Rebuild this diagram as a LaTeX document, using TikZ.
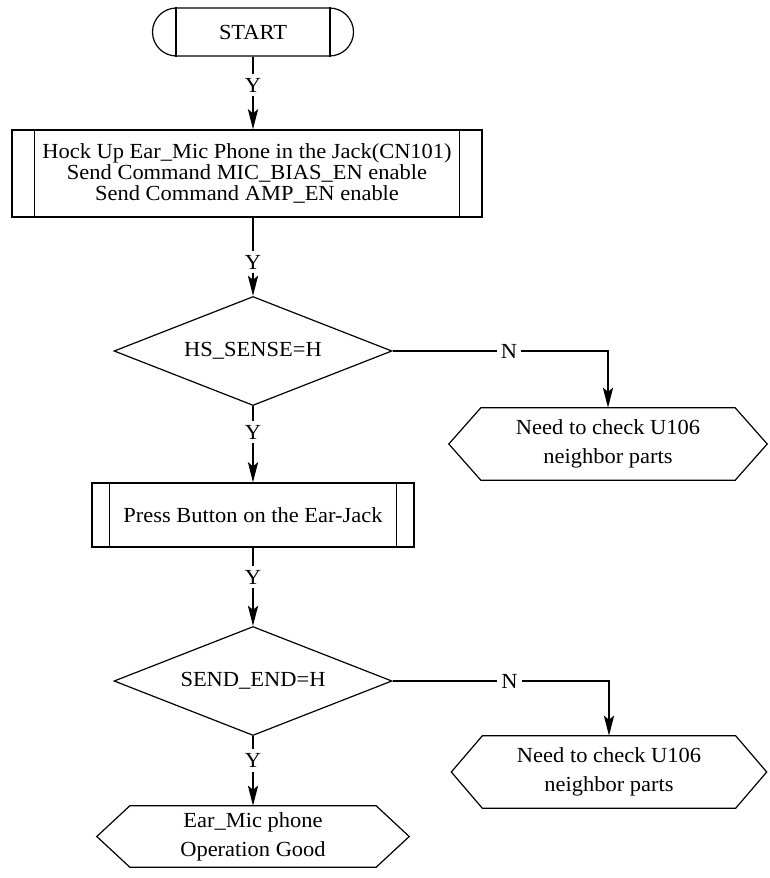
\documentclass[tikz,border=0pt]{standalone}
\usepackage{fontspec}
\setmainfont[FakeStretch=1.045]{Liberation Serif}
\usetikzlibrary{shapes.geometric,shapes.misc,arrows.meta}
\begin{document}
\begin{tikzpicture}[x=1pt,y=-1pt,
  font=\fontsize{21.5}{29}\selectfont,
  outline/.style={draw=black, line width=1.2pt, inner sep=0pt, align=center},
  decision/.style={outline, diamond, aspect=2.6, minimum width=278pt, minimum height=109pt},
  hexnode/.style={inner sep=0pt, align=center},
  edge line/.style={line width=1.2pt, line join=miter},
  flow/.style={line width=2.8pt, -{Stealth[length=20pt,width=10pt,inset=4pt]}},
  lbl/.style={fill=white, inner sep=4pt}
]
\useasboundingbox (0,0) rectangle (769,878);

% terminator
\node[outline, rounded rectangle, minimum width=201pt, minimum height=48pt] (start) at (253,32) {START};
\draw[edge line] ([xshift=-77pt]start.north) -- ([xshift=-77pt]start.south)
                 ([xshift=77pt]start.north) -- ([xshift=77pt]start.south);

% predefined process boxes
\node[outline, minimum width=470pt, minimum height=87pt,
      font=\fontsize{21.5}{21}\selectfont] (p1) at (247,173.5)
  {Hock Up Ear\_Mic Phone in the Jack(CN101)\\Send Command MIC\_BIAS\_EN enable\\Send Command AMP\_EN enable};
\draw[edge line] ([xshift=23pt]p1.north west) -- ([xshift=23pt]p1.south west)
                 ([xshift=-23pt]p1.north east) -- ([xshift=-23pt]p1.south east);

\node[outline, minimum width=322pt, minimum height=64pt] (p2) at (253,515)
  {Press Button on the Ear-Jack};
\draw[edge line] ([xshift=18pt]p2.north west) -- ([xshift=18pt]p2.south west)
                 ([xshift=-18pt]p2.north east) -- ([xshift=-18pt]p2.south east);

% decisions
\node[decision] (d1) at (253,351) {HS\_SENSE=H};
\node[decision] (d2) at (253,681) {SEND\_END=H};

% display (hexagon) boxes
\node[hexnode, minimum width=318pt, minimum height=72pt] (h1) at (608,444)
  {Need to check U106\\neighbor parts};
\node[hexnode, minimum width=315pt, minimum height=72pt] (h2) at (609,772)
  {Need to check U106\\neighbor parts};
\node[hexnode, minimum width=312pt, minimum height=61pt] (h3) at (253,836.5)
  {Ear\_Mic phone\\Operation Good};
\foreach \h/\c in {h1/32pt, h2/31pt, h3/33pt}{
  \draw[edge line] (\h.west) -- ([xshift=\c]\h.north west) -- ([xshift=-\c]\h.north east)
    -- (\h.east) -- ([xshift=-\c]\h.south east) -- ([xshift=\c]\h.south west) -- cycle;
}

% connectors
\draw[flow] (start.south) -- node[lbl, pos=0.39] {Y} (start.south |- p1.north);
\draw[flow] (p1.south -| d1.north) -- node[lbl, pos=0.57] {Y} (d1.north);
\draw[flow] (d1.east) -| node[lbl, pos=0.27] {N} (h1.north);
\draw[flow] (d1) -- node[lbl, pos=0.34] {Y} (p2);
\draw[flow] (p2) -- node[lbl, pos=0.38] {Y} (d2);
\draw[flow] (d2.east) -| node[lbl, pos=0.27] {N} (h2.north);
\draw[flow] (d2) -- node[lbl, pos=0.35] {Y} (h3);
\end{tikzpicture}
\end{document}
